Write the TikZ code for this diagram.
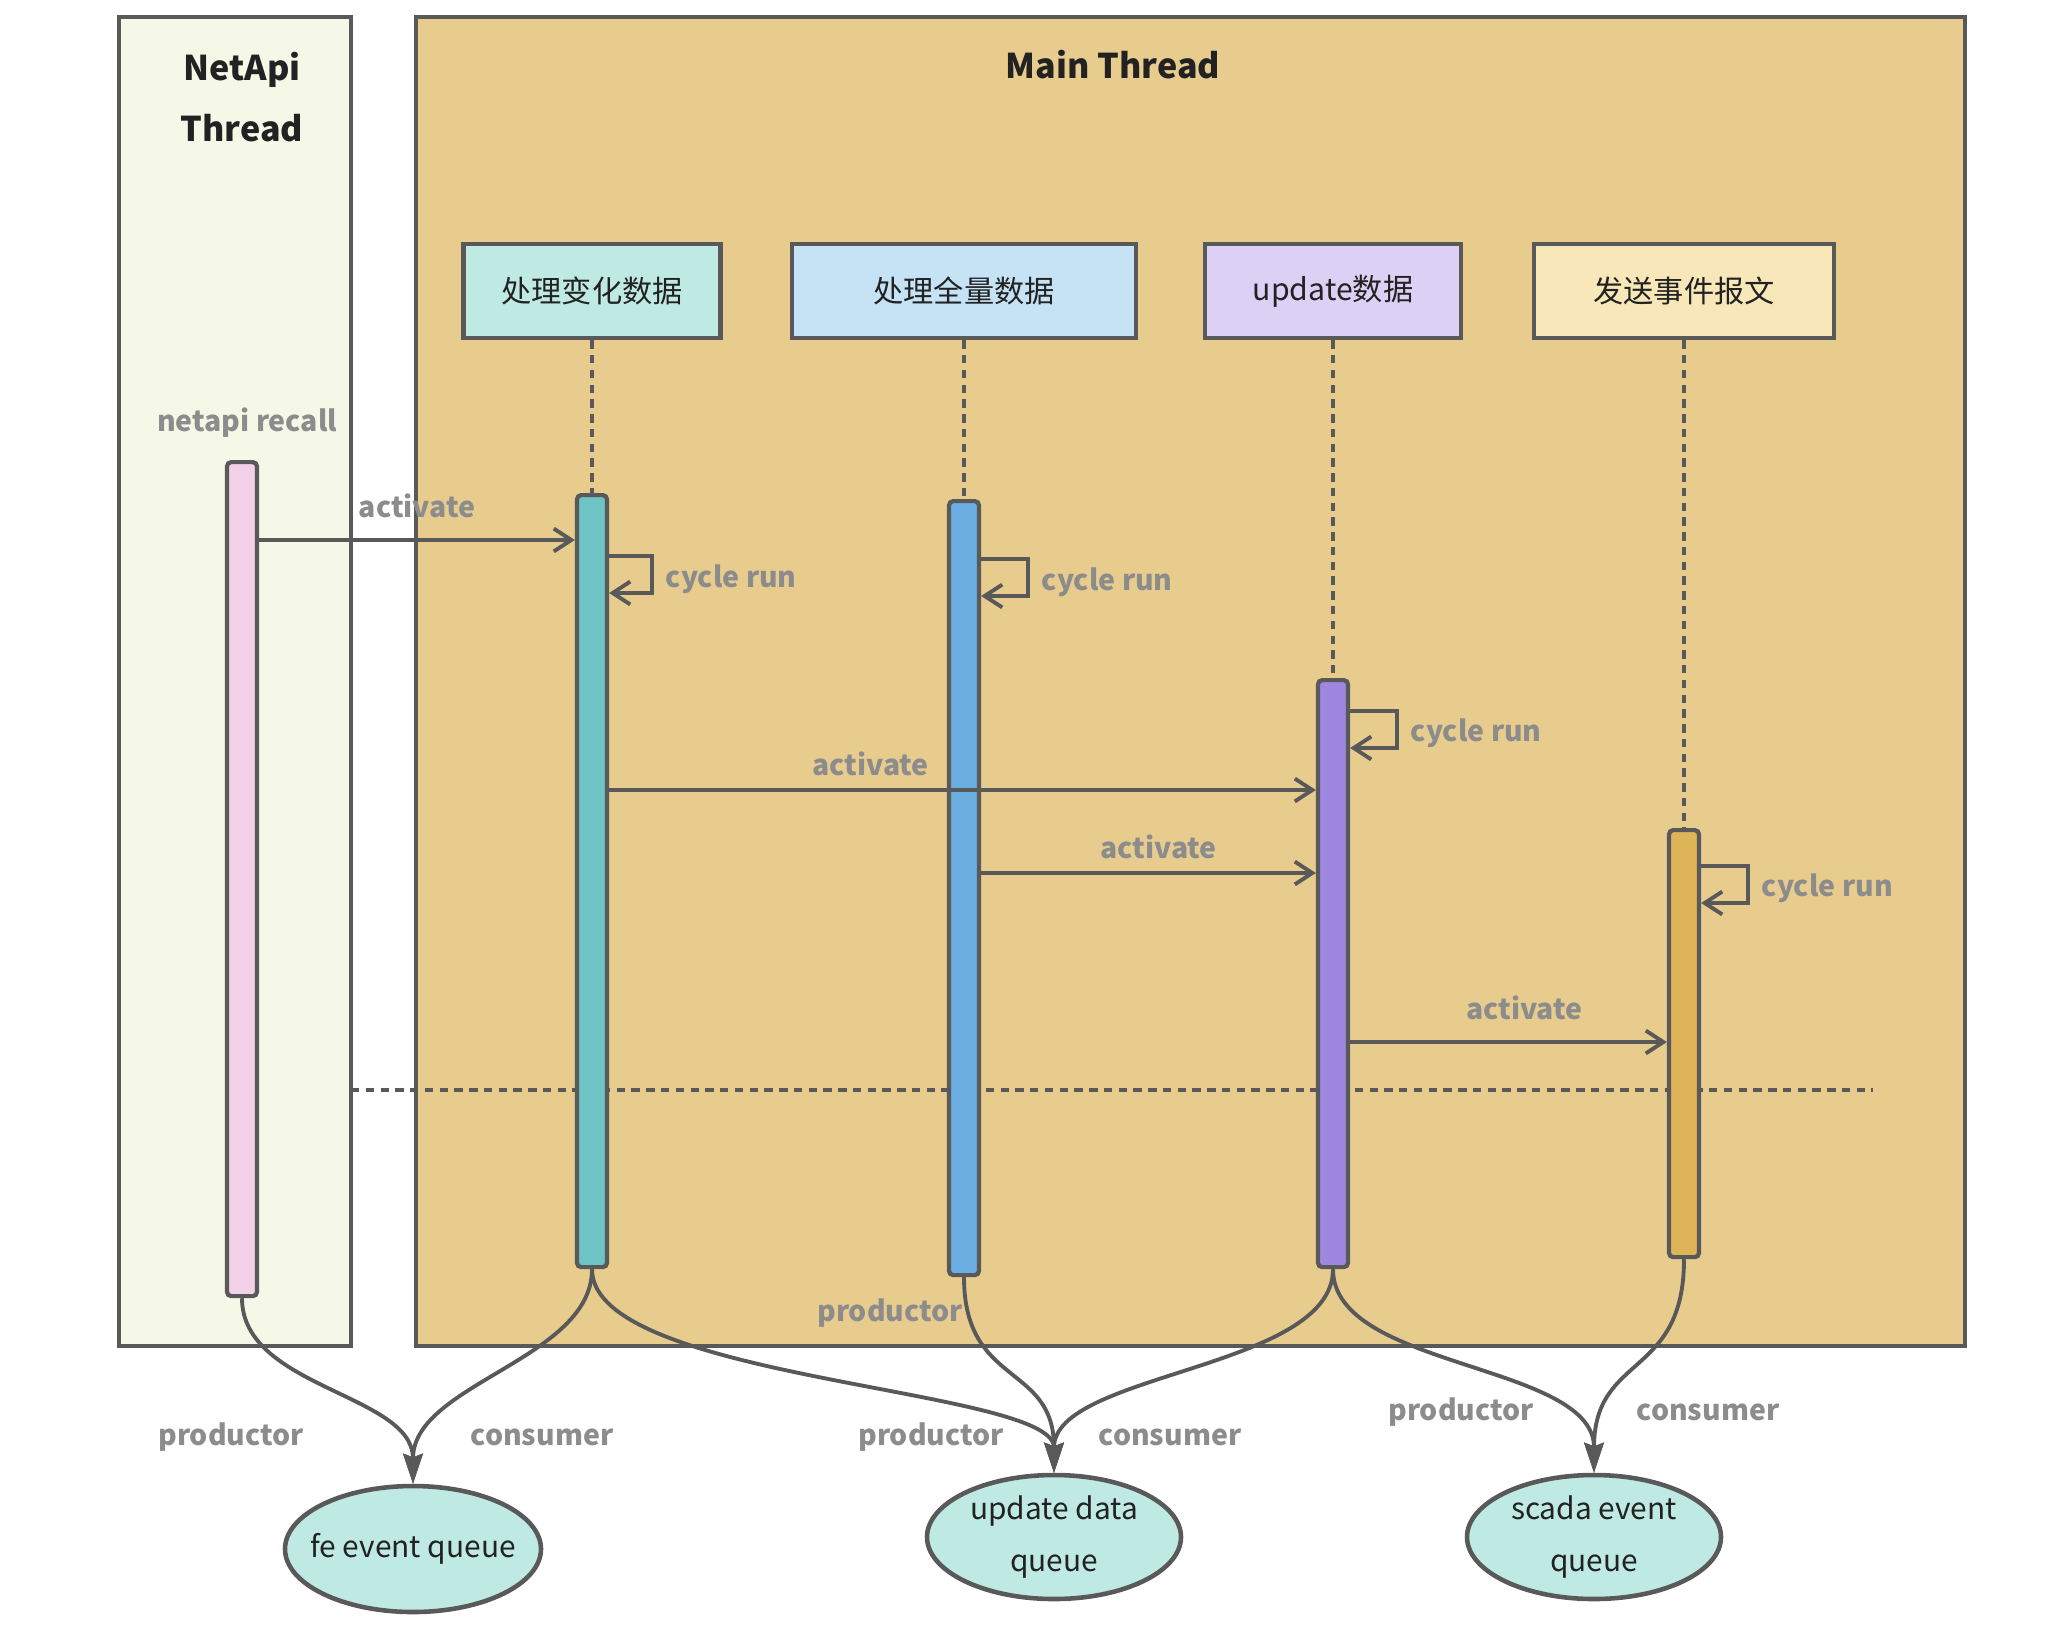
\documentclass[tikz,border=0pt]{standalone}
\usepackage{fontspec}
\setmainfont{Noto Sans CJK SC}
\usepackage{xcolor}
\usetikzlibrary{arrows.meta, positioning, shapes.geometric, calc}

\definecolor{edgegray}{HTML}{595959}
\definecolor{labelgray}{HTML}{8C8C8C}
\definecolor{titletext}{HTML}{222222}
\definecolor{netfill}{HTML}{F6F8E7}
\definecolor{mainfill}{HTML}{E8CC8E}
\definecolor{difffill}{HTML}{BFEAE3}
\definecolor{fullfill}{HTML}{C5E3F4}
\definecolor{updfill}{HTML}{DCD0F5}
\definecolor{sendfill}{HTML}{F8E8B9}
\definecolor{netbarfill}{HTML}{F2D0E7}
\definecolor{diffbarfill}{HTML}{6DC4C4}
\definecolor{fullbarfill}{HTML}{6AAEE2}
\definecolor{updbarfill}{HTML}{9F87DF}
\definecolor{sendbarfill}{HTML}{DEB458}
\definecolor{queuefill}{HTML}{BFEAE3}

\begin{document}
\begin{tikzpicture}[
  x=0.1mm, y=-0.1mm,
  >={Straight Barb[length=5pt,width=6.5pt]},
  frame/.style={draw=edgegray, line width=1.3pt},
  header/.style={rectangle, draw=edgegray, line width=1.3pt, minimum height=9.4mm, inner sep=0pt, text=titletext, font=\fontsize{8.6}{10}\selectfont},
  bar/.style={rectangle, draw=edgegray, line width=1.2pt, rounded corners=1.2pt, minimum width=3mm, inner sep=0pt, anchor=north},
  queue/.style={ellipse, draw=edgegray, line width=1.3pt, fill=queuefill, minimum width=25.4mm, minimum height=12.4mm, inner sep=0pt, align=center, text=titletext, font=\fontsize{8.5}{15}\selectfont},
  lbl/.style={text=labelgray, font=\bfseries\fontsize{8.1}{10}\selectfont},
  title/.style={text=titletext, font=\bfseries\fontsize{9.7}{17.6}\selectfont, align=center},
  life/.style={draw=edgegray, line width=1.4pt, dash pattern=on 2.4pt off 1.8pt},
  msg/.style={draw=edgegray, line width=1.1pt, ->},
  feed/.style={draw=edgegray, line width=1.1pt, -{Stealth[length=8.5pt,width=5.5pt,inset=1pt]}}
]
  \useasboundingbox (0,0) rectangle (2071,1629);

  % thread frames
  \draw[frame, fill=netfill] (119,17) rectangle (351,1346);
  \draw[frame, fill=mainfill] (416,17) rectangle (1965,1346);
  \node[title] (nettitle) at (242,97) {NetApi\\Thread};
  \node[title] (maintitle) at (1113,65) {Main Thread};

  % separator
  \draw[life] (351,1090) -- (1873,1090);

  % headers
  \node[header, fill=difffill, minimum width=25.7mm] (hdiff) at (592,291) {处理变化数据};
  \node[header, fill=fullfill, minimum width=34.4mm] (hfull) at (964,291) {处理全量数据};
  \node[header, fill=updfill, minimum width=25.6mm] (hupd) at (1333,291) {update数据};
  \node[header, fill=sendfill, minimum width=30mm] (hsend) at (1684,291) {发送事件报文};

  % activation bars
  \node[bar, fill=netbarfill, minimum height=83.4mm] (netbar) at (242,460) {};
  \node[bar, fill=diffbarfill, minimum height=77.2mm] (diffbar) at (592,493) {};
  \node[bar, fill=fullbarfill, minimum height=77.4mm] (fullbar) at (964,499) {};
  \node[bar, fill=updbarfill, minimum height=58.7mm] (updbar) at (1333,678) {};
  \node[bar, fill=sendbarfill, minimum height=42.7mm] (sendbar) at (1684,828) {};
  \node[lbl] (recall) at (247,423) {netapi recall};

  \draw[life] (hdiff) -- (diffbar);
  \draw[life] (hfull) -- (fullbar);
  \draw[life] (hupd) -- (updbar);
  \draw[life] (hsend) -- (sendbar);

  % messages
  \draw[msg] (netbar.east |- 0,540) -- node[lbl, above=2.5pt] {activate} (diffbar.west |- 0,540);
  \draw[msg] (diffbar.east |- 0,790) -- node[lbl, above, pos=0.37] {activate} (updbar.west |- 0,790);
  \draw[msg] (fullbar.east |- 0,873) -- node[lbl, above, pos=0.53] {activate} (updbar.west |- 0,873);
  \draw[msg] (updbar.east |- 0,1042) -- node[lbl, above=2.5pt, pos=0.55] {activate} (sendbar.west |- 0,1042);

  % cycle runs
  \draw[msg] (diffbar.east |- 0,556) -- ++(43,0) -- node[lbl, right, yshift=-1.4pt] {cycle run} ++(0,37) -- (diffbar.east |- 0,593);
  \draw[msg] (fullbar.east |- 0,559) -- ++(47,0) -- node[lbl, right, yshift=-1.4pt] {cycle run} ++(0,37) -- (fullbar.east |- 0,596);
  \draw[msg] (updbar.east |- 0,711) -- ++(47,0) -- node[lbl, right, yshift=-1pt] {cycle run} ++(0,37) -- (updbar.east |- 0,748);
  \draw[msg] (sendbar.east |- 0,866) -- ++(47,0) -- node[lbl, right, yshift=-1pt] {cycle run} ++(0,37) -- (sendbar.east |- 0,903);

  % queues
  \node[queue, inner xsep=-1.3mm, minimum width=25.6mm, minimum height=12.6mm] (feq) at (413,1549) {fe event queue};
  \node[queue] (updq) at (1054,1537) {update data\\queue};
  \node[queue] (scadaq) at (1594,1537) {scada event\\queue};

  \draw[feed] (netbar.south) .. controls +(0,90) and +(0,-90) .. (feq.north);
  \draw[feed] (diffbar.south) .. controls +(0,90) and +(0,-100) .. (feq.north);
  \draw[feed] (diffbar.south) .. controls +(0,112) and +(0,-85) .. (updq.north);
  \draw[feed] (fullbar.south) .. controls +(0,110) and +(0,-110) .. (updq.north);
  \draw[feed] (updbar.south) .. controls +(0,100) and +(0,-100) .. (updq.north);
  \draw[feed] (updbar.south) .. controls +(0,100) and +(0,-110) .. (scadaq.north);
  \draw[feed] (sendbar.south) .. controls +(0,120) and +(0,-120) .. (scadaq.north);

  \node[lbl] (prodnet) at (231,1437) {productor};
  \node[lbl] (consdiff) at (542,1437) {consumer};
  \node[lbl] (prodfull) at (890,1313) {productor};
  \node[lbl] (proddiff) at (931,1437) {productor};
  \node[lbl] (consupd) at (1170,1437) {consumer};
  \node[lbl] (produpd) at (1461,1412) {productor};
  \node[lbl] (conssend) at (1708,1412) {consumer};
\end{tikzpicture}
\end{document}
